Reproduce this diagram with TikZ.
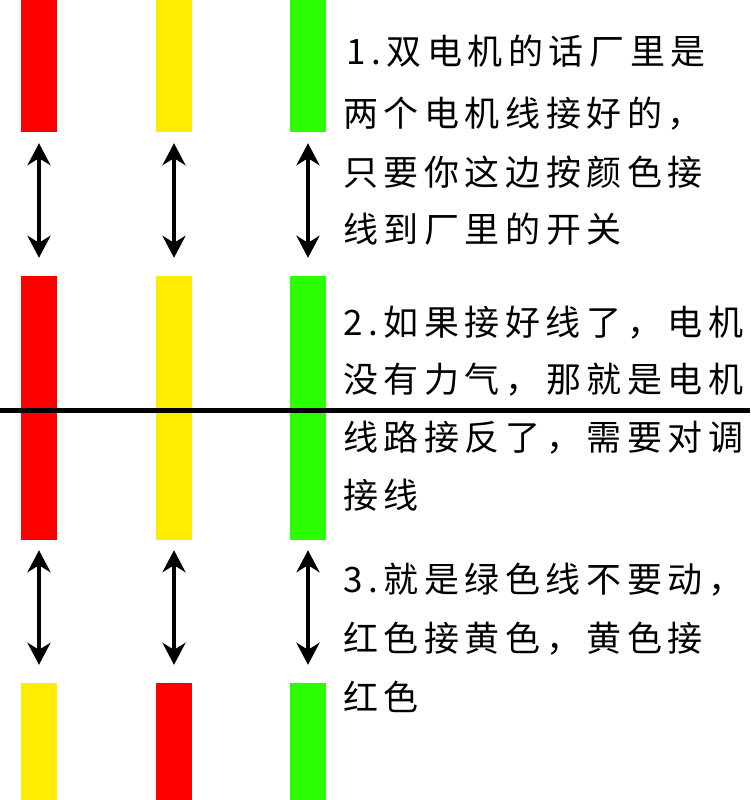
\documentclass[tikz,border=0pt]{standalone}
\usepackage{fontspec}
\newfontfamily\cjk[LetterSpace=16]{Noto Sans CJK SC}
\usetikzlibrary{arrows.meta}
\definecolor{wred}{RGB}{255,0,0}
\definecolor{wyellow}{RGB}{255,237,0}
\definecolor{wgreen}{RGB}{42,255,0}
\tikzset{
  bar/.style={draw=none,inner sep=0pt,minimum width=36pt,rectangle},
  dblarrow/.style={line width=4pt,{Stealth[length=22pt,width=23pt,inset=7pt]}-{Stealth[length=22pt,width=23pt,inset=7pt]}},
  txt/.style={anchor=base west,inner sep=0pt,font=\cjk\fontsize{35}{35}\selectfont}
}
\begin{document}
\begin{tikzpicture}[x=1pt,y=-1pt]
\useasboundingbox (0,0) rectangle (750,800);
% top bars
\node[bar,fill=wred,minimum height=132pt] (r1) at (39,66) {};
\node[bar,fill=wyellow,minimum height=132pt] (y1) at (174,66) {};
\node[bar,fill=wgreen,minimum height=132pt] (g1) at (308,66) {};
% middle bars
\node[bar,fill=wred,minimum height=264pt] (r2) at (39,408) {};
\node[bar,fill=wyellow,minimum height=264pt] (y2) at (174,408) {};
\node[bar,fill=wgreen,minimum height=264pt] (g2) at (308,408) {};
% bottom bars
\node[bar,fill=wyellow,minimum height=117pt] (r3) at (39,741.5) {};
\node[bar,fill=wred,minimum height=117pt] (y3) at (174,741.5) {};
\node[bar,fill=wgreen,minimum height=117pt] (g3) at (308,741.5) {};
% arrows
\foreach \a/\b in {r1/r2,y1/y2,g1/g2}
  \draw[dblarrow,shorten <=11pt,shorten >=18pt] (\a.south) -- (\b.north);
\foreach \a/\b in {r2/r3,y2/y3,g2/g3}
  \draw[dblarrow,shorten <=10pt,shorten >=18pt] (\a.south) -- (\b.north);
% horizontal line
\coordinate (hl) at (0,410);
\coordinate (hr) at (750,410);
\draw[line width=5pt] (hl) -- (hr);
% text block 1
\node[txt] (t1a) at (346,65) {1.双电机的话厂里是};
\node[txt] (t1b) at (343,126) {两个电机线接好的，};
\node[txt] (t1c) at (343,185) {只要你这边按颜色接};
\node[txt] (t1d) at (343,242) {线到厂里的开关};
% text block 2
\node[txt] (t2a) at (343,335) {2.如果接好线了，电机};
\node[txt] (t2b) at (343,392) {没有力气，那就是电机};
\node[txt] (t2c) at (343,450) {线路接反了，需要对调};
\node[txt] (t2d) at (343,508) {接线};
% text block 3
\node[txt] (t3a) at (343,592) {3.就是绿色线不要动，};
\node[txt] (t3b) at (343,651) {红色接黄色，黄色接};
\node[txt] (t3c) at (343,710) {红色};
\end{tikzpicture}
\end{document}
